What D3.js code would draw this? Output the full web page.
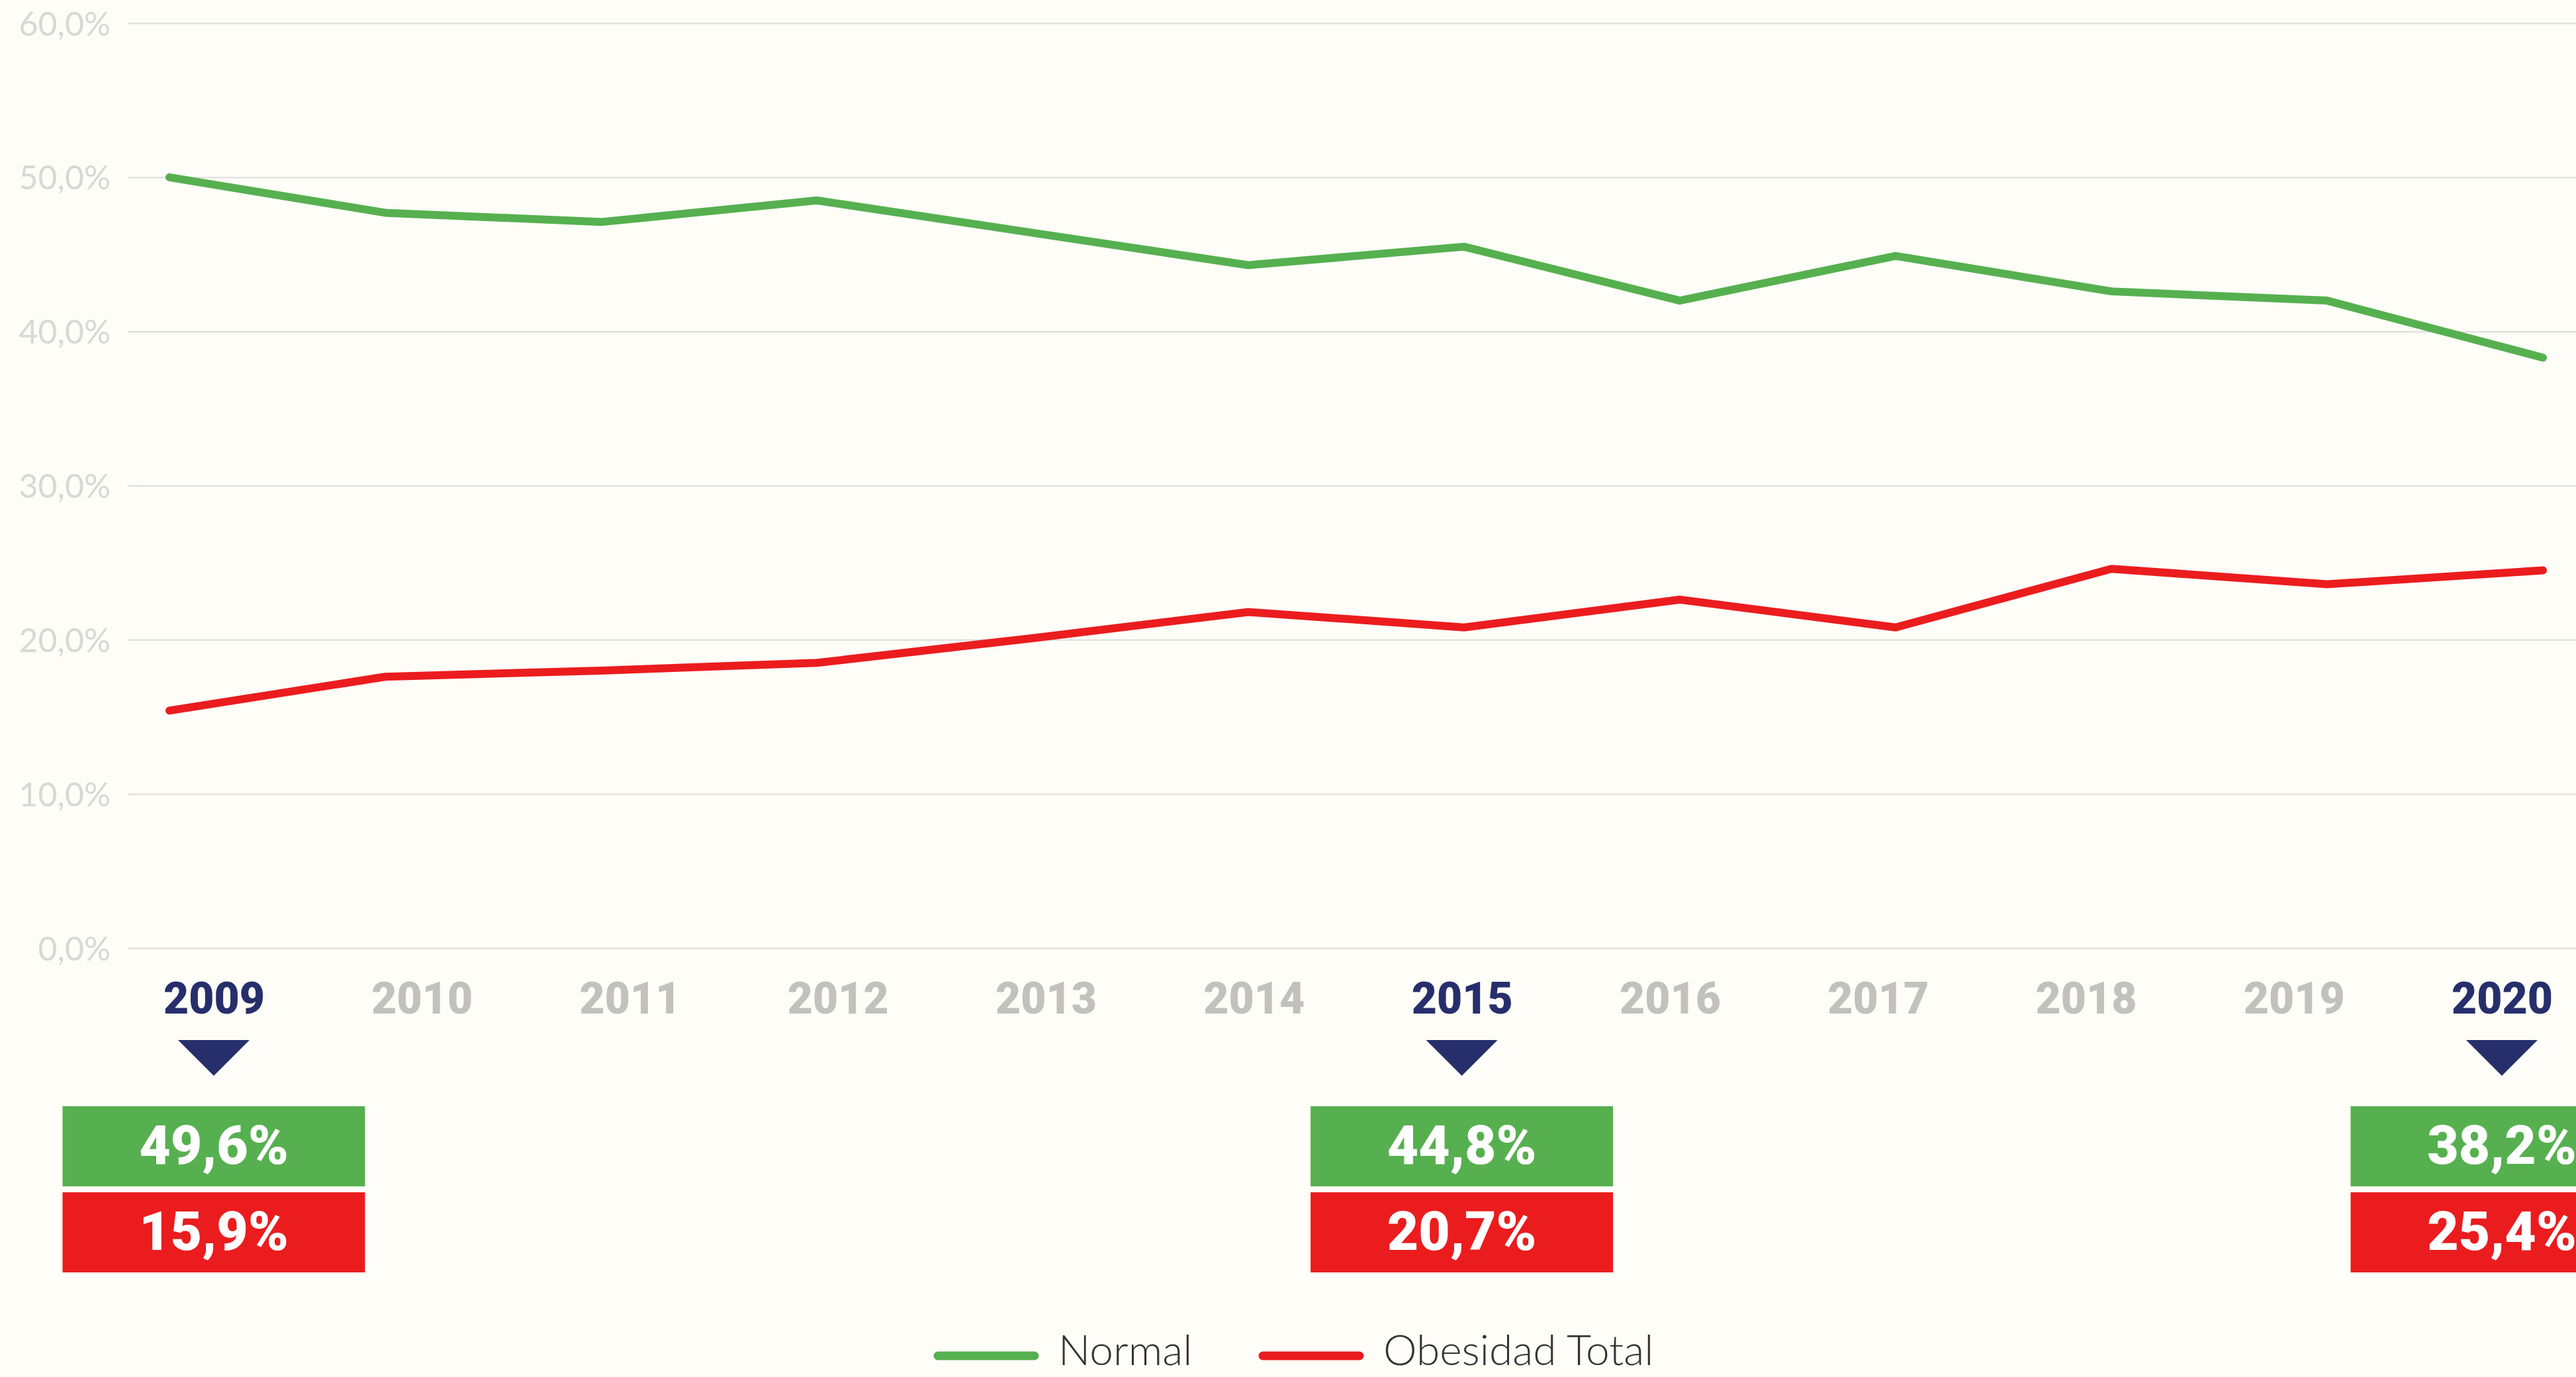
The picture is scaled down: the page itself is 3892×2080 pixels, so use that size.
<!DOCTYPE html>
<html>
<head>
<meta charset="utf-8">
<script src="https://cdn.jsdelivr.net/npm/d3@7"></script>
<style>
  html, body { margin: 0; padding: 0; background: #fefdf8; }
  svg { display: block; }
</style>
</head>
<body>
<svg id="chart"></svg>
<script>
let w = 3892;
let h = 2080;

// data
let years = [2009, 2010, 2011, 2012, 2013, 2014, 2015, 2016, 2017, 2018, 2019, 2020];
let normal = [50.0, 47.7, 47.1, 48.5, 46.4, 44.3, 45.5, 42.0, 44.9, 42.6, 42.0, 38.3];
let obesidad = [15.4, 17.6, 18.0, 18.5, 20.1, 21.8, 20.8, 22.6, 20.8, 24.6, 23.6, 24.5];
let yTicks = [0, 10, 20, 30, 40, 50, 60];

// highlighted years and the values shown in their boxes
let highlightYears = [2009, 2015, 2020];
let normalBox = [49.6, 44.8, 38.2];
let obesidadBox = [15.9, 20.7, 25.4];

let seriesNames = ["Normal", "Obesidad Total"];

let colors = { "Normal": "#56b04f", "Obesidad Total": "#eb1c1e" };
let navy = "#262f6b";
let greyYear = "#c2c1bd";
let heavyFont = "Roboto, Lato, 'Open Sans', sans-serif";

let esLocale = d3.formatLocale({ decimal: ",", thousands: ".", grouping: [3], currency: ["", "€"] });
let fmt1 = esLocale.format(".1f");

let chart = d3.select("#chart")
  .attr("width", w)
  .attr("height", h);

chart.append("rect")
  .attr("width", w)
  .attr("height", h)
  .attr("fill", "#fefdf8");

let yScale = d3.scaleLinear()
  .domain([0, 60])
  .range([1432, 35]);

let xLine = d3.scalePoint()
  .domain(years)
  .range([256, 3842]);

let xLabel = d3.scalePoint()
  .domain(years)
  .range([323, 3780]);

// gridlines
let grid = chart.append("g")
  .attr("transform", "translate(193,0)")
  .call(d3.axisRight(yScale).tickValues(yTicks).tickSize(w - 193).tickFormat(""));
grid.select(".domain").remove();
grid.selectAll("line")
  .attr("stroke", "#dcdcda")
  .attr("stroke-width", 2);

// y axis labels
let yAxisGroup = chart.append("g")
  .attr("transform", "translate(167,0)")
  .call(d3.axisLeft(yScale).tickValues(yTicks).tickSize(0).tickPadding(0)
    .tickFormat(d => fmt1(d) + "%"));
yAxisGroup.select(".domain").remove();
yAxisGroup.selectAll("text")
  .attr("dy", null)
  .attr("y", 18)
  .attr("fill", "#d8d8d5")
  .attr("font-family", "Lato, 'Open Sans', sans-serif")
  .attr("font-weight", 400)
  .attr("font-size", 50);

// lines
let line = d3.line()
  .x((d, i) => xLine(years[i]))
  .y(d => yScale(d));

let seriesData = [
  { name: "Normal", values: normal },
  { name: "Obesidad Total", values: obesidad }
];

chart.selectAll(".series")
  .data(seriesData)
  .join("path")
  .attr("class", "series")
  .attr("d", d => line(d.values))
  .attr("fill", "none")
  .attr("stroke", d => colors[d.name])
  .attr("stroke-width", 12)
  .attr("stroke-linejoin", "round")
  .attr("stroke-linecap", "round");

// year labels
let xAxisGroup = chart.append("g")
  .attr("transform", "translate(0,1531)")
  .call(d3.axisBottom(xLabel).tickSize(0).tickPadding(0));
xAxisGroup.select(".domain").remove();
xAxisGroup.selectAll("text")
  .attr("dy", null)
  .attr("y", 0)
  .attr("font-family", heavyFont)
  .attr("font-weight", 900)
  .attr("font-size", 66)
  .attr("fill", d => highlightYears.includes(d) ? navy : greyYear);

// highlight markers and boxes
let boxW = 457;
let boxH = 121;
let hl = chart.selectAll(".hl")
  .data(highlightYears)
  .join("g")
  .attr("class", "hl")
  .attr("transform", d => `translate(${xLabel(d)},0)`);

hl.append("path")
  .attr("d", "M-54,1571 L54,1571 L0,1625 Z")
  .attr("fill", navy);

hl.append("rect")
  .attr("x", -boxW / 2)
  .attr("y", 1671)
  .attr("width", boxW)
  .attr("height", boxH)
  .attr("fill", colors["Normal"]);

hl.append("rect")
  .attr("x", -boxW / 2)
  .attr("y", 1801)
  .attr("width", boxW)
  .attr("height", boxH)
  .attr("fill", colors["Obesidad Total"]);

hl.append("text")
  .attr("y", 1758)
  .attr("text-anchor", "middle")
  .attr("fill", "#fff")
  .attr("font-family", heavyFont)
  .attr("font-weight", 900)
  .attr("font-size", 82)
  .text((d, i) => fmt1(normalBox[i]) + "%");

hl.append("text")
  .attr("y", 1888)
  .attr("text-anchor", "middle")
  .attr("fill", "#fff")
  .attr("font-family", heavyFont)
  .attr("font-weight", 900)
  .attr("font-size", 82)
  .text((d, i) => fmt1(obesidadBox[i]) + "%");

// legend
let legendX = [1410, 1901];
let legend = chart.append("g")
  .selectAll("g")
  .data(seriesNames)
  .join("g")
  .attr("transform", (d, i) => `translate(${legendX[i]},2048)`);

legend.append("line")
  .attr("x1", 7)
  .attr("x2", 153)
  .attr("stroke", d => colors[d])
  .attr("stroke-width", 13)
  .attr("stroke-linecap", "round");

legend.append("text")
  .attr("x", 189)
  .attr("y", 14)
  .attr("fill", "#333333")
  .attr("font-family", "Lato, 'Open Sans', sans-serif")
  .attr("font-weight", 300)
  .attr("font-size", 64)
  .text(d => d);
</script>
</body>
</html>
